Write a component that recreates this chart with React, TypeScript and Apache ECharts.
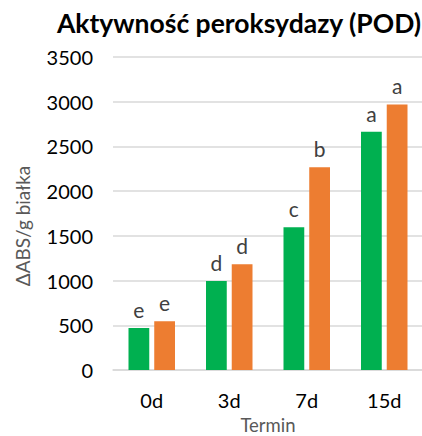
import React, { useEffect, useRef } from "react";
import * as echarts from "echarts";

const categories = ["0d", "3d", "7d", "15d"];
const greenValues = [470, 995, 1595, 2665];
const orangeValues = [545, 1182, 2266, 2970];
const greenLetters = ["e", "d", "c", "a"];
const orangeLetters = ["e", "d", "b", "a"];
const titleText = "Aktywność peroksydazy (POD)";
const yAxisTitle = "ΔABS/g białka";
const xAxisTitle = "Termin";

const FONT = "Lato, 'Open Sans', sans-serif";

export default function App() {
  const ref = useRef<HTMLDivElement>(null);
  useEffect(() => {
    if (!ref.current) return;
    const chart = echarts.init(ref.current, undefined, { renderer: "svg" });
    const mkSeries = (vals: number[], letters: string[], color: string) => ({
      type: "bar",
      data: vals,
      barGap: "24%",
      barCategoryGap: "40%",
      itemStyle: { color },
      label: {
        show: true,
        position: "top",
        distance: 8,
        formatter: (p: any) => letters[p.dataIndex],
        fontFamily: FONT,
        fontSize: 21,
        color: "#404040",
      },
    });
    chart.setOption({
      animation: false,
      textStyle: { fontFamily: FONT },
      title: {
        text: titleText,
        left: 234,
        top: 4,
        textAlign: "center",
        textStyle: { fontFamily: FONT, fontWeight: "bold", fontSize: 26.5, color: "#000" },
      },
      grid: { left: 113, right: -1, top: 57, bottom: 66, outerBoundsMode: "none", containLabel: false },
      xAxis: {
        type: "category",
        data: categories,
        axisLine: { lineStyle: { color: "#d9d9d9", width: 1.5 } },
        axisTick: { show: false },
        axisLabel: { color: "#000", fontSize: 20, margin: 20, fontFamily: FONT },
        name: xAxisTitle,
        nameLocation: "middle",
        nameGap: 45,
        nameTextStyle: { color: "#595959", fontSize: 18.5, fontFamily: FONT },
      },
      yAxis: {
        type: "value",
        min: 0,
        max: 3500,
        interval: 500,
        axisLine: { show: false },
        axisTick: { show: false },
        splitLine: { lineStyle: { color: "#d9d9d9", width: 1.5 } },
        axisLabel: {
          color: "#000",
          fontSize: 20,
          margin: 20,
          fontFamily: FONT,
          formatter: (v: number) => String(v),
        },
      },
      graphic: [
        {
          type: "text",
          x: 22,
          y: 226,
          rotation: Math.PI / 2,
          style: {
            text: yAxisTitle,
            fill: "#595959",
            fontSize: 19,
            fontFamily: FONT,
            textAlign: "center",
            textVerticalAlign: "middle",
          },
        },
      ],
      series: [
        mkSeries(greenValues, greenLetters, "#00B050"),
        mkSeries(orangeValues, orangeLetters, "#ED7D31"),
      ],
    });
    return () => chart.dispose();
  }, []);
  return (
    <div
      ref={ref}
      style={{ position: "fixed", left: 0, top: 0, width: 422, height: 436, background: "#fff" }}
    />
  );
}
